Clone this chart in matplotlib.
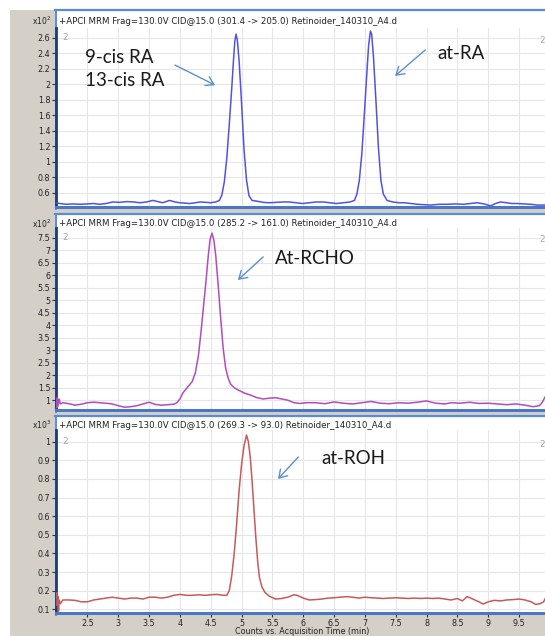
import matplotlib
matplotlib.use("Agg")
import matplotlib.pyplot as plt
from matplotlib.patches import Rectangle
from matplotlib.lines import Line2D

# ---------------- data ----------------
headers = [
    "+APCI MRM Frag=130.0V CID@15.0 (301.4 -> 205.0) Retinoider_140310_A4.d",
    "+APCI MRM Frag=130.0V CID@15.0 (285.2 -> 161.0) Retinoider_140310_A4.d",
    "+APCI MRM Frag=130.0V CID@15.0 (269.3 -> 93.0) Retinoider_140310_A4.d",
]
exponents = ["x10$^{2}$", "x10$^{2}$", "x10$^{3}$"]

ra_time = [1.99, 2.05, 2.16, 2.27, 2.38, 2.5, 2.59, 2.7, 2.8, 2.91, 3.02, 3.14, 3.25, 3.35, 3.46,
           3.56, 3.64, 3.72, 3.83, 3.92, 4.0, 4.08, 4.16, 4.25, 4.33, 4.42, 4.5, 4.58, 4.64,
           4.68, 4.72, 4.76, 4.80, 4.84, 4.87, 4.89, 4.91, 4.93, 4.96, 5.00, 5.04, 5.08, 5.12,
           5.17, 5.25, 5.35, 5.45, 5.56, 5.67, 5.77, 5.88, 5.99, 6.1, 6.21, 6.32, 6.43, 6.54,
           6.65, 6.76, 6.83, 6.87, 6.91, 6.95, 6.99, 7.03, 7.06, 7.09, 7.11, 7.14, 7.18, 7.22,
           7.26, 7.30, 7.36, 7.45, 7.55, 7.64, 7.75, 7.85, 7.96, 8.07, 8.2, 8.33, 8.47, 8.6,
           8.71, 8.82, 8.93, 9.04, 9.12, 9.2, 9.3, 9.38, 9.47, 9.58, 9.69, 9.8, 9.92]
ra_counts = [0.47, 0.46, 0.45, 0.455, 0.45, 0.455, 0.46, 0.45, 0.46, 0.48, 0.475, 0.485, 0.48, 0.47, 0.48,
             0.5, 0.485, 0.47, 0.5, 0.48, 0.47, 0.465, 0.46, 0.47, 0.48, 0.475, 0.47, 0.48, 0.5,
             0.57, 0.74, 1.05, 1.48, 1.95, 2.33, 2.56, 2.65, 2.58, 2.3, 1.75, 1.15, 0.76, 0.56,
             0.5, 0.49, 0.475, 0.47, 0.475, 0.48, 0.48, 0.47, 0.46, 0.47, 0.48, 0.48, 0.47, 0.46,
             0.47, 0.48, 0.5, 0.58, 0.76, 1.1, 1.6, 2.12, 2.5, 2.69, 2.65, 2.35, 1.78, 1.18,
             0.76, 0.58, 0.5, 0.48, 0.47, 0.47, 0.46, 0.45, 0.445, 0.44, 0.45, 0.45, 0.455, 0.45,
             0.46, 0.47, 0.455, 0.43, 0.46, 0.48, 0.47, 0.46, 0.46, 0.455, 0.45, 0.44, 0.44]

rcho_time = [1.99, 2.00, 2.01, 2.02, 2.04, 2.06, 2.1, 2.2, 2.3, 2.4, 2.5, 2.6, 2.7, 2.8, 2.9, 3.0,
             3.1, 3.2, 3.3, 3.4, 3.5, 3.6, 3.7, 3.8, 3.9, 3.95, 4.0, 4.05, 4.1, 4.15, 4.2, 4.25,
             4.3, 4.34, 4.38, 4.42, 4.46, 4.49, 4.52, 4.55, 4.58, 4.62, 4.66, 4.70, 4.74, 4.78,
             4.82, 4.88, 4.95, 5.05, 5.15, 5.25, 5.35, 5.45, 5.55, 5.65, 5.75, 5.85, 5.95, 6.05,
             6.2, 6.35, 6.5, 6.65, 6.8, 6.95, 7.1, 7.25, 7.4, 7.55, 7.7, 7.85, 8.0, 8.15, 8.3,
             8.4, 8.55, 8.7, 8.85, 9.0, 9.15, 9.3, 9.45, 9.6, 9.73, 9.83, 9.88, 9.92]
rcho_counts = [0.95, 0.7, 1.1, 0.75, 1.05, 0.85, 0.9, 0.86, 0.8, 0.84, 0.9, 0.92, 0.9, 0.88, 0.85, 0.78,
               0.72, 0.74, 0.78, 0.85, 0.92, 0.83, 0.8, 0.82, 0.84, 0.9, 1.05, 1.3, 1.45, 1.6, 1.75, 2.1,
               2.8, 3.7, 4.7, 5.7, 6.8, 7.45, 7.68, 7.4, 6.8, 5.6, 4.3, 3.1, 2.3, 1.9,
               1.65, 1.5, 1.4, 1.28, 1.2, 1.1, 1.05, 1.08, 1.1, 1.05, 1.0, 0.9, 0.87, 0.9,
               0.9, 0.86, 0.93, 0.88, 0.85, 0.9, 0.95, 0.88, 0.86, 0.9, 0.88, 0.92, 0.97, 0.88, 0.85,
               0.9, 0.88, 0.92, 0.87, 0.88, 0.85, 0.82, 0.85, 0.8, 0.74, 0.78, 0.92, 1.12]

roh_time = [1.99, 2.00, 2.01, 2.02, 2.03, 2.04, 2.06, 2.1, 2.2, 2.3, 2.4, 2.5, 2.6, 2.7, 2.8, 2.9,
            3.0, 3.1, 3.2, 3.3, 3.4, 3.5, 3.6, 3.7, 3.8, 3.9, 4.0, 4.1, 4.2, 4.3, 4.4, 4.5, 4.6,
            4.7, 4.76, 4.80, 4.84, 4.88, 4.92, 4.96, 5.00, 5.04, 5.08, 5.11, 5.14, 5.17, 5.20,
            5.23, 5.26, 5.29, 5.33, 5.38, 5.45, 5.55, 5.65, 5.75, 5.85, 5.9, 6.0, 6.1, 6.2, 6.3,
            6.4, 6.5, 6.6, 6.7, 6.8, 6.9, 7.0, 7.1, 7.2, 7.3, 7.4, 7.5, 7.6, 7.7, 7.8, 7.9, 8.0,
            8.1, 8.2, 8.3, 8.4, 8.5, 8.58, 8.66, 8.75, 8.85, 8.92, 9.0, 9.1, 9.2, 9.3, 9.4, 9.5,
            9.6, 9.7, 9.77, 9.84, 9.9, 9.92]
roh_counts = [0.17, 0.19, 0.12, 0.17, 0.09, 0.15, 0.13, 0.15, 0.15, 0.148, 0.14, 0.14, 0.15, 0.155, 0.16, 0.165,
              0.16, 0.155, 0.16, 0.16, 0.155, 0.165, 0.165, 0.16, 0.165, 0.175, 0.18, 0.175, 0.175, 0.178, 0.175, 0.178, 0.18,
              0.175, 0.175, 0.2, 0.28, 0.40, 0.56, 0.74, 0.88, 0.98, 1.036, 1.0, 0.92, 0.79, 0.64,
              0.49, 0.36, 0.27, 0.22, 0.19, 0.17, 0.155, 0.158, 0.165, 0.178, 0.175, 0.16, 0.15, 0.152, 0.155,
              0.16, 0.162, 0.165, 0.168, 0.165, 0.16, 0.165, 0.162, 0.16, 0.158, 0.16, 0.162, 0.16, 0.158, 0.16, 0.158, 0.16,
              0.158, 0.16, 0.155, 0.15, 0.158, 0.145, 0.168, 0.155, 0.14, 0.128, 0.14, 0.148, 0.145, 0.15, 0.152, 0.155,
              0.15, 0.14, 0.126, 0.13, 0.14, 0.155]

x_ticks = [2.5, 3, 3.5, 4, 4.5, 5, 5.5, 6, 6.5, 7, 7.5, 8, 8.5, 9, 9.5]
x_ticklabels = ["2.5", "3", "3.5", "4", "4.5", "5", "5.5", "6", "6.5", "7", "7.5", "8", "8.5", "9", "9.5"]

y1_ticks = [0.6, 0.8, 1.0, 1.2, 1.4, 1.6, 1.8, 2.0, 2.2, 2.4, 2.6]
y1_labels = ["0.6", "0.8", "1", "1.2", "1.4", "1.6", "1.8", "2", "2.2", "2.4", "2.6"]
y2_ticks = [1, 1.5, 2, 2.5, 3, 3.5, 4, 4.5, 5, 5.5, 6, 6.5, 7, 7.5]
y2_labels = ["1", "1.5", "2", "2.5", "3", "3.5", "4", "4.5", "5", "5.5", "6", "6.5", "7", "7.5"]
y3_ticks = [0.1, 0.2, 0.3, 0.4, 0.5, 0.6, 0.7, 0.8, 0.9, 1.0]
y3_labels = ["0.1", "0.2", "0.3", "0.4", "0.5", "0.6", "0.7", "0.8", "0.9", "1"]

x_label = "Counts vs. Acquisition Time (min)"

# ---------------- layout ----------------
W, H = 545, 636
fig = plt.figure(figsize=(W / 100, H / 100), dpi=100, facecolor="white")

def fx(px):
    return px / W

def fy(py):
    return 1 - py / H

GREY = "#d4d0c8"
BORDER = "#5b8bd6"
SPINE_L = "#1f3c78"
SPINE_B = "#4a78c4"
GRID = "#e6e6e6"
ARROW = "#5b8fcf"
TICKFONT = dict(family="DejaVu Sans", size=5.8)

fig.patches.append(Rectangle((fx(10), 0), 1, fy(10), transform=fig.transFigure,
                             facecolor=GREY, edgecolor="none", zorder=0))

# (box_top, box_bottom, plot_top, plot_bottom, header_y)
panels = [
    (10, 209, 28, 207, 21),
    (214, 412, 228, 410, 224),
    (416, 615, 430, 613, 425),
]
ylims = [(0.415, 2.729), (0.608, 7.888), (0.080, 1.063)]
xlim = (1.989, 9.922)
series = [(ra_time, ra_counts, "#5252e2"),
          (rcho_time, rcho_counts, "#b24cbc"),
          (roh_time, roh_counts, "#c65a5a")]
yticks = [(y1_ticks, y1_labels), (y2_ticks, y2_labels), (y3_ticks, y3_labels)]

axes = []
for i, (bt, bb, pt, pb, hy) in enumerate(panels):
    fig.patches.append(Rectangle((fx(55), fy(bb)), 1, fy(bt) - fy(bb), transform=fig.transFigure,
                                 facecolor="white", edgecolor="none", zorder=1))
    fig.lines.append(Line2D([fx(55), 1], [fy(bt), fy(bt)], transform=fig.transFigure,
                            color=BORDER, lw=1.6, zorder=2))
    fig.lines.append(Line2D([fx(55.5), fx(55.5)], [fy(bb), fy(bt)], transform=fig.transFigure,
                            color=BORDER, lw=1.4, zorder=2))
    ax = fig.add_axes([fx(56), fy(pb), 1 - fx(56), fy(pt) - fy(pb)])
    ax.set_zorder(3)
    t, c, col = series[i]
    ax.plot(t, c, color=col, lw=1.1, zorder=3)
    ax.set_xlim(*xlim)
    ax.set_ylim(*ylims[i])
    ax.set_xticks(x_ticks)
    ax.set_yticks(yticks[i][0])
    ax.set_yticklabels(yticks[i][1], **TICKFONT)
    ax.grid(True, color=GRID, lw=0.8, zorder=0)
    ax.set_axisbelow(True)
    for s in ["top", "right"]:
        ax.spines[s].set_visible(False)
    ax.spines["left"].set_color(SPINE_L)
    ax.spines["left"].set_linewidth(2.0)
    ax.spines["bottom"].set_color(SPINE_B)
    ax.spines["bottom"].set_linewidth(2.2)
    ax.tick_params(axis="y", direction="out", length=3, width=0.8, color="#333333", pad=1,
                   labelcolor="#222222")
    if i < 2:
        ax.tick_params(axis="x", length=0, labelbottom=False)
    else:
        ax.set_xticklabels(x_ticklabels, **TICKFONT)
        ax.tick_params(axis="x", direction="out", length=3, width=0.8, color="#333333", pad=1.5,
                       labelcolor="#222222")
    fig.text(fx(59), fy(hy), headers[i], ha="left", va="center", color="#222222",
             family="DejaVu Sans", size=6.2, zorder=5)
    fig.text(fx(51), fy(hy - 0.5), exponents[i], ha="right", va="center", color="#222222",
             family="DejaVu Sans", size=5.5, zorder=5)
    ytop = 0.945 if i == 0 else (0.95 if i == 1 else 0.937)
    ax.text(0.012, ytop, "2", transform=ax.transAxes,
            ha="left", va="center", color="#a8a8a8", family="DejaVu Sans", size=6.5)
    ax.text(0.999, ytop - 0.015, "2", transform=ax.transAxes,
            ha="right", va="center", color="#a8a8a8", family="DejaVu Sans", size=6.5)
    axes.append(ax)

fig.text(0.555, fy(627), x_label, ha="center", va="top", color="#222222",
         family="DejaVu Sans", size=5.8)

# ---------------- annotations ----------------
AFONT = dict(family="Lato", size=13.5, color="#1a1a1a")
arrowprops = dict(arrowstyle="->,head_length=0.55,head_width=0.35", color=ARROW, lw=1.0,
                  shrinkA=0, shrinkB=0, mutation_scale=10)

ax1, ax2, ax3 = axes
ax1.text(2.46, 2.354, "9-cis RA", ha="left", va="center", **AFONT)
ax1.text(2.46, 2.05, "13-cis RA", ha="left", va="center", **AFONT)
ax1.annotate("", xy=(4.57, 1.99), xytext=(3.92, 2.25), arrowprops=arrowprops)
ax1.text(8.17, 2.40, "at-RA", ha="left", va="center", **AFONT)
ax1.annotate("", xy=(7.49, 2.11), xytext=(7.98, 2.445), arrowprops=arrowprops)

ax2.text(5.54, 6.67, "At-RCHO", ha="left", va="center", **AFONT)
ax2.annotate("", xy=(4.94, 5.81), xytext=(5.35, 6.73), arrowprops=arrowprops)

ax3.text(6.30, 0.91, "at-ROH", ha="left", va="center", **AFONT)
ax3.annotate("", xy=(5.59, 0.80), xytext=(5.92, 0.918), arrowprops=arrowprops)

fig.savefig("out.png", dpi=100, facecolor=fig.get_facecolor())
